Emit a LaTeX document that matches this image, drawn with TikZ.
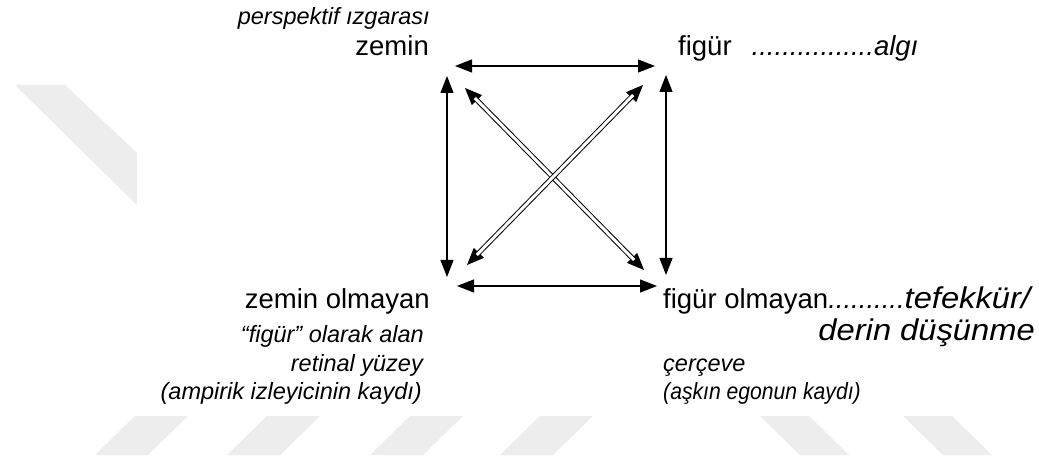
\documentclass[tikz,border=0pt]{standalone}
\usepackage{fontspec}
\setmainfont{Liberation Sans}
\usetikzlibrary{arrows.meta}
\definecolor{wm}{RGB}{237,237,237}
\newcommand{\wideit}[1]{\scalebox{1.09}[1]{\fontsize{30}{32}\selectfont\itshape #1}}
\begin{document}
\begin{tikzpicture}[x=1pt,y=-1pt,
  big/.style={font=\fontsize{27.5}{30}\selectfont, inner sep=0pt},
  small/.style={font=\fontsize{23.5}{26}\selectfont\itshape, inner sep=0pt},
  tip/.style={line width=1.2pt, {Triangle[length=17pt,width=13pt]}-{Triangle[length=17pt,width=13pt]}},
  dtip/.style={line width=1pt, {Triangle[length=17pt,width=14pt]}-{Triangle[length=17pt,width=14pt]}},
  dshaft/.style={double=white, double distance=3pt, line width=1pt, shorten <=14pt, shorten >=14pt},
  wmark/.style={fill=wm, draw=none}]
\useasboundingbox (0,0) rectangle (1039,462);
\fill[white] (0,0) rectangle (1039,462);
% watermark stripes
\fill[wmark] (15,85) -- (65,85) -- (137,153) -- (137,205) -- cycle;
\foreach \a in {135,267,410,540}
  \fill[wmark] (\a,416) -- (\a+53,416) -- (\a+13,455) -- (\a-40,455) -- cycle;
\foreach \b in {760,903}
  \fill[wmark] (\b,416) -- (\b+49,416) -- (\b+89,455) -- (\b+40,455) -- cycle;
% texts
\node[small, anchor=base east] (pg) at (430,25) {perspektif ızgarası};
\node[big, anchor=base east] (zemin) at (429,56) {zemin};
\node[big, anchor=base west] (figur) at (678,56) {figür\hspace{20pt}\textit{................algı}};
\node[big, anchor=base east] (zo) at (430,309) {zemin olmayan};
\node[small, anchor=base east] (fa) at (424,342) {“figür” olarak alan};
\node[small, anchor=base east] (ry) at (423,371) {retinal yüzey};
\node[small, anchor=base east] (ai) at (422,399) {(ampirik izleyicinin kaydı)};
\node[big, anchor=base west] (fo) at (663,309) {figür olmayan\textit{..........}\wideit{tefekkür/}};
\node[big, anchor=base east] (dd) at (1035,341) {\wideit{derin düşünme}};
\node[small, anchor=base west] (cc) at (663,371) {çerçeve};
\node[small, anchor=base west] (ae) at (663,399) {\scalebox{0.9}[1]{(aşkın egonun kaydı)}};
% arrow end points
\coordinate (ta) at (455,66);  \coordinate (tb) at (655,66);
\coordinate (ba) at (457,286); \coordinate (bb) at (657,286);
\coordinate (la) at (447,76);  \coordinate (lb) at (447,277);
\coordinate (ra) at (666,75);  \coordinate (rb) at (666,275);
\coordinate (d1a) at (465,88); \coordinate (d1b) at (644,270);
\coordinate (d2a) at (467,265); \coordinate (d2b) at (643,85);
% arrows
\draw[tip] (ta) -- (tb);
\draw[tip] (ba) -- (bb);
\draw[tip] (la) -- (lb);
\draw[tip] (ra) -- (rb);
\draw[dtip] (d1a) -- (d1b);
\draw[dtip] (d2a) -- (d2b);
\draw[dshaft] (d1a) -- (d1b);
\draw[dshaft] (d2a) -- (d2b);
\end{tikzpicture}
\end{document}
